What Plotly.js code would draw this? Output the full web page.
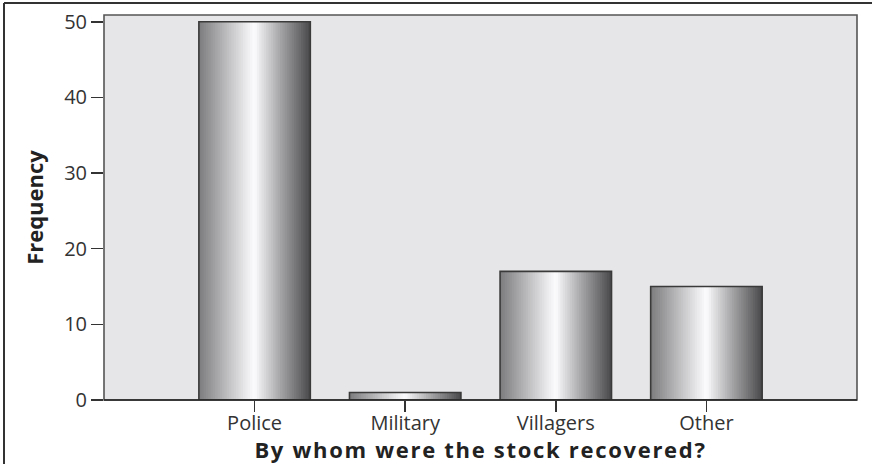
<!DOCTYPE html>
<html>
<head>
<meta charset="utf-8">
<script src="https://cdn.plot.ly/plotly-3.0.1.min.js"></script>
<style>
html,body{margin:0;padding:0;background:#fff;}
#chart{width:872px;height:464px;}
#chart .g-xtitle text{letter-spacing:1.7px;}
</style>
</head>
<body>
<div id="chart"></div>
<script>
// Data
var categories = ["Police", "Military", "Villagers", "Other"];
var frequencies = [50, 1, 17, 15];
var yTickValues = [0, 10, 20, 30, 40, 50];
var xAxisTitle = "By whom were the stock recovered?";
var yAxisTitle = "Frequency";

// Style
var FONT = "'Open Sans', 'DejaVu Sans', sans-serif";
var BAR_WIDTH = 0.74;
var SLICES = 48;
// cylindrical grey shading stops: [position, grey level]
var shadeStops = [[0, 124], [0.2, 176], [0.4, 228], [0.5, 252], [0.56, 228], [0.75, 158], [0.9, 108], [1, 72]];

function shadeAt(t) {
  for (var k = 1; k < shadeStops.length; k++) {
    if (t <= shadeStops[k][0]) {
      var a = shadeStops[k - 1], b = shadeStops[k];
      var f = (t - a[0]) / (b[0] - a[0]);
      var g = Math.round(a[1] + f * (b[1] - a[1]));
      return "rgb(" + g + "," + g + "," + (g + 2 > 255 ? 255 : g + 2) + ")";
    }
  }
  var g2 = shadeStops[shadeStops.length - 1][1];
  return "rgb(" + g2 + "," + g2 + "," + g2 + ")";
}

var traces = [];
var step = BAR_WIDTH / SLICES;
for (var i = 0; i < SLICES; i++) {
  traces.push({
    type: "bar",
    x: categories,
    y: frequencies,
    offset: -BAR_WIDTH / 2 + i * step,
    width: BAR_WIDTH - i * step,
    marker: { color: shadeAt((i + 0.5) / SLICES), line: { width: 0 } },
    hoverinfo: "skip",
    showlegend: false
  });
}
// outline
traces.push({
  type: "bar",
  x: categories,
  y: frequencies,
  offset: -BAR_WIDTH / 2,
  width: BAR_WIDTH,
  marker: { color: "rgba(0,0,0,0)", line: { width: 1.6, color: "#3a3a3a" } },
  showlegend: false
});

var layout = {
  width: 872,
  height: 464,
  margin: { l: 104, r: 15, t: 15, b: 64 },
  paper_bgcolor: "#ffffff",
  plot_bgcolor: "#e6e6e8",
  barmode: "overlay",
  showlegend: false,
  font: { family: FONT, color: "#333333", size: 20 },
  xaxis: {
    type: "category",
    range: [-1, 4],
    showgrid: false,
    zeroline: false,
    showline: false,
    ticks: "outside",
    ticklen: 11,
    tickwidth: 1.5,
    tickcolor: "#333333",
    tickfont: { family: FONT, size: 20, color: "#333333" },
    ticklabelstandoff: -6,
    title: { text: xAxisTitle, font: { family: FONT, size: 22, color: "#222222", weight: "bold" }, standoff: 0 },
    fixedrange: true
  },
  yaxis: {
    range: [0, 50.9],
    tickvals: yTickValues,
    showgrid: false,
    zeroline: false,
    showline: false,
    ticks: "outside",
    ticklen: 12,
    tickwidth: 1.5,
    tickcolor: "#333333",
    tickfont: { family: FONT, size: 20, color: "#333333" },
    title: { text: yAxisTitle, font: { family: FONT, size: 22, color: "#222222", weight: "bold" }, standoff: 14 },
    fixedrange: true
  },
  shapes: [
    { type: "rect", xref: "paper", yref: "paper", x0: 0, x1: 1, y0: 0, y1: 1,
      line: { color: "#555555", width: 1.6 }, fillcolor: "rgba(0,0,0,0)", layer: "above" },
    { type: "line", xref: "paper", yref: "paper", x0: 0, x1: 1, y0: 0, y1: 0,
      line: { color: "#222222", width: 1.6 }, layer: "above" },
    // outer figure frame (top and left)
    { type: "line", xref: "paper", yref: "paper", x0: -100 / 753, x1: 15 / 753 + 1, y0: 1 + 12 / 385, y1: 1 + 12 / 385,
      line: { color: "#333333", width: 2 } },
    { type: "line", xref: "paper", yref: "paper", x0: -100 / 753, x1: -100 / 753, y0: -64 / 385, y1: 1 + 12 / 385,
      line: { color: "#333333", width: 2 } }
  ]
};

Plotly.newPlot("chart", traces, layout, { displayModeBar: false, staticPlot: true });
</script>
</body>
</html>
